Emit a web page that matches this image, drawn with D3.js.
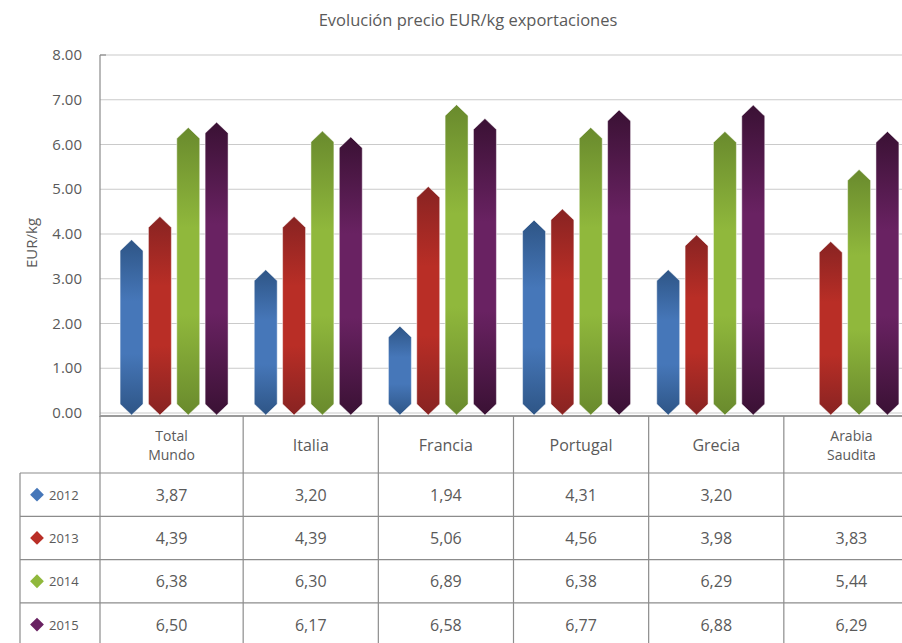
<!DOCTYPE html>
<html>
<head>
  <meta charset="utf-8">
  <title>Evolución precio EUR/kg exportaciones</title>
  <script src="https://d3js.org/d3.v7.min.js"></script>
  <style>
    body { margin: 0; background: #fff; }
    svg text { font-family: "Open Sans", "Noto Sans", sans-serif; fill: #5a5a5a; }
  </style>
</head>
<body>
<div id="vis"></div>
<script>
var countries = ["Total\nMundo", "Italia", "Francia", "Portugal", "Grecia", "Arabia\nSaudita"];
var years = ["2012", "2013", "2014", "2015"];
var v2012 = [3.87, 3.20, 1.94, 4.31, 3.20, null];
var v2013 = [4.39, 4.39, 5.06, 4.56, 3.98, 3.83];
var v2014 = [6.38, 6.30, 6.89, 6.38, 6.29, 5.44];
var v2015 = [6.50, 6.17, 6.58, 6.77, 6.88, 6.29];
var yTicks = [0, 1, 2, 3, 4, 5, 6, 7, 8];

var series = [v2012, v2013, v2014, v2015];
var colors = {
  "2012": {dark: "#2e5586", light: "#4677b9"},
  "2013": {dark: "#882322", light: "#b92e26"},
  "2014": {dark: "#698a2d", light: "#90b83c"},
  "2015": {dark: "#3a1134", light: "#692262"}
};

var width = 902, height = 643;
var svg = d3.select("#vis").append("svg")
  .attr("width", width)
  .attr("height", height);

// gradients, dark at the ends, light in the middle
var defs = svg.append("defs");
years.forEach(function (yr) {
  var g = defs.append("linearGradient")
    .attr("id", "grad" + yr)
    .attr("x1", 0).attr("y1", 0).attr("x2", 0).attr("y2", 1);
  g.append("stop").attr("offset", "0%").attr("stop-color", colors[yr].dark);
  g.append("stop").attr("offset", "35%").attr("stop-color", colors[yr].light);
  g.append("stop").attr("offset", "65%").attr("stop-color", colors[yr].light);
  g.append("stop").attr("offset", "100%").attr("stop-color", colors[yr].dark);
});

// scales
var y = d3.scaleLinear().domain([0, 8]).range([413, 55]);
var xBar = d3.scaleBand().domain(countries).range([107, 912]);
var xYear = d3.scaleBand().domain(years).range([-54, 54]).paddingInner(0.19);
var xTable = d3.scaleBand().domain(countries).range([108, 919]);

// title
svg.append("text")
  .attr("x", 468).attr("y", 26)
  .attr("text-anchor", "middle")
  .style("font-size", "16.5px")
  .text("Evolución precio EUR/kg exportaciones");

// gridlines
svg.append("g").selectAll("line")
  .data(yTicks)
  .enter().append("line")
  .attr("x1", 100).attr("x2", width)
  .attr("y1", function (d) { return y(d); })
  .attr("y2", function (d) { return y(d); })
  .attr("stroke", "#cacaca")
  .attr("stroke-width", 1.2);

// y axis
svg.append("line")
  .attr("x1", 100).attr("x2", 100)
  .attr("y1", y(8)).attr("y2", 417)
  .attr("stroke", "#8a8a8a").attr("stroke-width", 1.2);
svg.append("line")
  .attr("x1", 100).attr("x2", 106)
  .attr("y1", y(8)).attr("y2", y(8))
  .attr("stroke", "#8a8a8a").attr("stroke-width", 1.2);

svg.append("g").selectAll("text")
  .data(yTicks)
  .enter().append("text")
  .attr("x", 82)
  .attr("y", function (d) { return y(d) + 5; })
  .attr("text-anchor", "end")
  .style("font-size", "15px")
  .text(d3.format(".2f"));

svg.append("text")
  .attr("transform", "translate(37," + y(3.8) + ") rotate(-90)")
  .attr("text-anchor", "middle")
  .style("font-size", "15px")
  .text("EUR/kg");

// bars with pointed ends
var tip = 11;
function barPath(cx, w, yTop, yBot) {
  var h = Math.min(tip, (yBot - yTop) / 2);
  var x0 = cx - w / 2, x1 = cx + w / 2;
  return "M" + cx + "," + yTop +
    "L" + x1 + "," + (yTop + h) +
    "L" + x1 + "," + (yBot - h) +
    "L" + cx + "," + yBot +
    "L" + x0 + "," + (yBot - h) +
    "L" + x0 + "," + (yTop + h) + "Z";
}

var barData = [];
countries.forEach(function (c, i) {
  years.forEach(function (yr, j) {
    var v = series[j][i];
    if (v != null) barData.push({country: c, year: yr, value: v});
  });
});

svg.append("g").selectAll("path")
  .data(barData)
  .enter().append("path")
  .attr("d", function (d) {
    var cx = xBar(d.country) + xBar.bandwidth() / 2 + xYear(d.year) + xYear.bandwidth() / 2;
    return barPath(cx, xYear.bandwidth(), y(d.value), y(0) + 2);
  })
  .attr("fill", function (d) { return "url(#grad" + d.year + ")"; })
  .attr("stroke", "#ffffff")
  .attr("stroke-opacity", 0.6)
  .attr("stroke-width", 0.8);

// table
var headTop = 416, headH = 57, rowH = 43.3;
var tableBottom = headTop + headH + rowH * years.length;
var lineColor = "#8c8c8c";
var t = svg.append("g");

// x axis / table top line
t.append("line")
  .attr("x1", 100).attr("x2", width)
  .attr("y1", headTop).attr("y2", headTop)
  .attr("stroke", "#9a9a9a").attr("stroke-width", 2);

// vertical lines
var vx = [100].concat(countries.slice(1).map(function (c) { return xTable(c); }));
t.selectAll("line.v")
  .data(vx)
  .enter().append("line")
  .attr("class", "v")
  .attr("x1", function (d) { return d; })
  .attr("x2", function (d) { return d; })
  .attr("y1", headTop).attr("y2", tableBottom)
  .attr("stroke", lineColor).attr("stroke-width", 1.2);

t.append("line")
  .attr("x1", 20).attr("x2", 20)
  .attr("y1", headTop + headH).attr("y2", tableBottom)
  .attr("stroke", lineColor).attr("stroke-width", 1.2);

// horizontal lines
t.selectAll("line.h")
  .data(years)
  .enter().append("line")
  .attr("class", "h")
  .attr("x1", 20).attr("x2", width)
  .attr("y1", function (d, i) { return headTop + headH + rowH * i; })
  .attr("y2", function (d, i) { return headTop + headH + rowH * i; })
  .attr("stroke", lineColor).attr("stroke-width", 1.2);

// header labels
countries.forEach(function (c, i) {
  var lines = c.split("\n");
  var cx = i === 0 ? (100 + xTable(countries[1])) / 2 : xTable(c) + xTable.bandwidth() / 2;
  var two = lines.length > 1;
  var txt = t.append("text")
    .attr("x", cx)
    .attr("text-anchor", "middle")
    .style("font-size", two ? "14px" : "16px");
  var y0 = headTop + headH / 2 + 6 - (lines.length - 1) * 9.5;
  lines.forEach(function (l, k) {
    txt.append("tspan").attr("x", cx).attr("y", y0 + k * 19).text(l);
  });
});

// rows
var fmt = function (v) { return v == null ? "" : d3.format(".2f")(v).replace(".", ","); };
years.forEach(function (yr, j) {
  var cy = headTop + headH + rowH * j + rowH / 2;
  t.append("path")
    .attr("d", d3.symbol().type(d3.symbolSquare).size(95))
    .attr("transform", "translate(37," + cy + ") rotate(45)")
    .attr("fill", colors[yr].light);
  t.append("text")
    .attr("x", 49).attr("y", cy + 5)
    .style("font-size", "13px")
    .text(yr);
  series[j].forEach(function (v, i) {
    var cx = i === 0 ? (100 + xTable(countries[1])) / 2 : xTable(countries[i]) + xTable.bandwidth() / 2;
    t.append("text")
      .attr("x", cx).attr("y", cy + 6)
      .attr("text-anchor", "middle")
      .style("font-size", "16px")
      .text(fmt(v));
  });
});
</script>
</body>
</html>
